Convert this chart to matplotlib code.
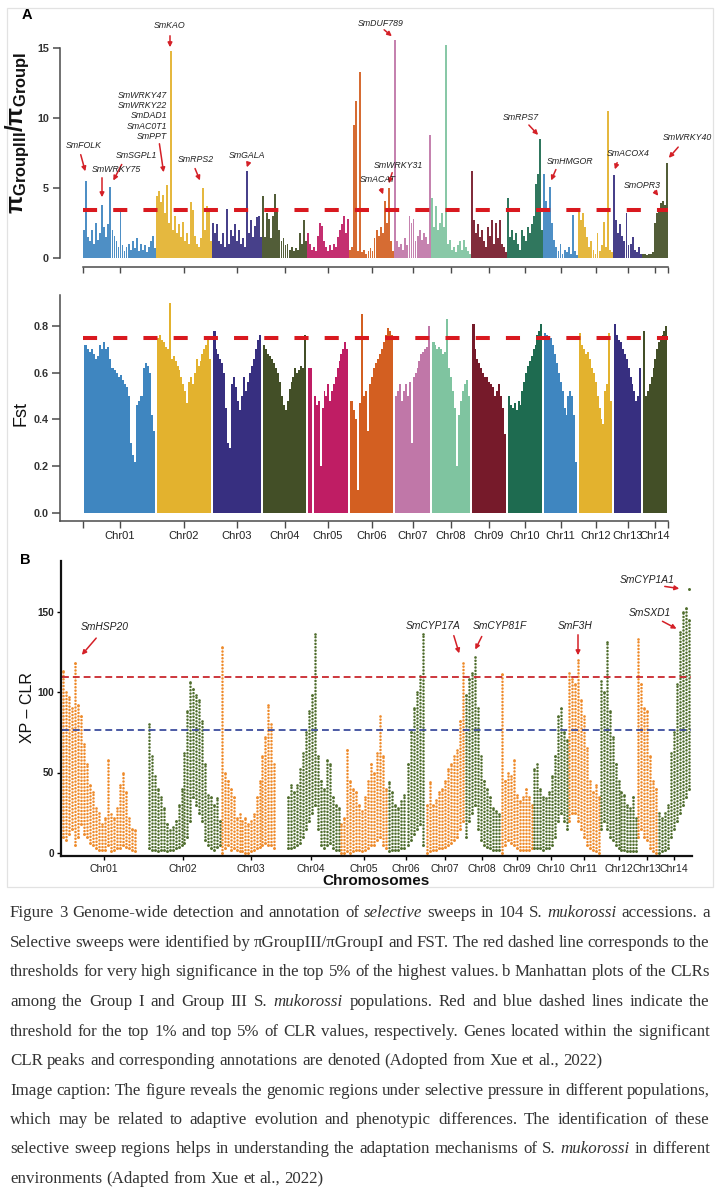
import numpy as np
import matplotlib
matplotlib.use('Agg')
import matplotlib.pyplot as plt
from matplotlib.patches import Rectangle
from matplotlib.transforms import ScaledTranslation

plt.rcParams['font.family'] = ['Liberation Sans', 'DejaVu Sans']
plt.rcParams['mathtext.fontset'] = 'custom'
plt.rcParams['mathtext.rm'] = 'Liberation Sans'
plt.rcParams['mathtext.bf'] = 'Liberation Sans:bold'
plt.rcParams['mathtext.it'] = 'Liberation Sans:italic'

# ---------------- data ----------------
chroms = ['Chr01', 'Chr02', 'Chr03', 'Chr04', 'Chr05', 'Chr06', 'Chr07',
          'Chr08', 'Chr09', 'Chr10', 'Chr11', 'Chr12', 'Chr13', 'Chr14']
# chromosome lengths (Mb-like units) used in panel A and panel B
a_chr_len = [73, 56, 50, 45, 42, 45, 37, 40, 36, 36, 35, 35, 29, 26]
b_chr_len = [83, 76, 60, 59, 47, 38, 39, 36, 33, 35, 32, 37, 20, 34]

pi_ratio = [
    [2.0, 5.5, 1.5, 1.2, 2.0, 1.0, 2.5, 1.3, 1.8, 3.8, 2.2, 1.5, 2.4, 5.1, 2.0, 1.6, 1.2, 0.8,
     3.6, 0.9, 0.5, 0.8, 1.0, 0.6, 1.2, 0.7, 1.4, 0.5, 1.0, 0.6, 0.9, 0.4, 0.8, 1.2, 1.6, 0.7],
    [4.4, 4.8, 4.0, 4.5, 3.2, 5.2, 2.5, 14.8, 2.0, 3.0, 1.8, 2.4, 1.5, 2.6, 1.2, 1.8, 1.0, 4.0,
     3.4, 1.6, 1.0, 0.8, 1.4, 5.0, 2.0, 3.7, 3.5, 1.2],
    [2.5, 1.8, 2.4, 1.2, 1.0, 1.8, 0.8, 3.5, 1.0, 2.0, 1.6, 2.4, 1.2, 2.0, 1.0, 1.4, 0.8, 6.2,
     1.8, 2.7, 1.5, 2.3, 2.9, 3.0, 1.5],
    [4.4, 1.5, 3.2, 2.8, 1.4, 3.0, 4.6, 3.4, 2.0, 1.2, 1.4, 0.9, 1.0, 0.6, 0.8, 0.5, 0.7, 0.6,
     1.8, 1.0, 2.7, 1.2],
    [1.8, 1.0, 0.6, 0.8, 0.5, 1.6, 2.5, 2.3, 1.2, 0.8, 0.5, 0.9, 0.6, 1.0, 0.8, 1.5, 2.0, 2.4,
     3.0, 1.8, 2.8],
    [0.6, 0.8, 9.5, 11.2, 0.5, 13.3, 0.4, 0.6, 0.3, 0.5, 0.7, 0.5, 1.4, 2.0, 1.6, 2.2, 1.8, 4.1,
     2.5, 5.0, 1.2, 0.5],
    [15.6, 1.2, 0.8, 1.0, 0.6, 1.4, 0.9, 3.0, 2.5, 2.8, 1.2, 1.6, 2.0, 1.3, 1.8, 1.5, 1.0, 8.8],
    [4.3, 2.2, 3.7, 2.0, 2.5, 3.2, 2.2, 15.2, 1.0, 1.3, 0.6, 0.8, 0.4, 0.9, 1.2, 0.6, 1.3, 0.8,
     0.5, 0.3],
    [6.2, 2.7, 1.8, 2.4, 1.5, 2.0, 1.2, 0.8, 2.2, 1.6, 2.7, 1.0, 2.5, 1.4, 2.7, 1.0, 0.8, 0.4],
    [4.3, 1.5, 2.0, 1.3, 1.8, 1.0, 0.6, 2.0, 1.6, 1.2, 2.2, 1.8, 2.4, 3.0, 5.3, 6.0, 8.5, 2.0],
    [6.0, 4.1, 3.5, 5.1, 2.5, 1.3, 0.8, 0.5, 1.0, 0.3, 0.6, 0.4, 0.8, 0.3, 3.1, 0.5, 0.2],
    [3.5, 2.7, 3.2, 2.2, 1.5, 0.8, 1.2, 0.6, 0.3, 1.8, 0.5, 0.9, 2.6, 0.8, 10.5, 0.6, 0.4],
    [5.9, 2.7, 1.8, 2.4, 1.6, 1.2, 3.2, 0.9, 1.0, 1.5, 0.6, 0.4, 0.8, 0.3],
    [0.3, 0.3, 0.2, 0.3, 0.3, 0.4, 2.5, 3.2, 3.6, 3.9, 4.1, 3.8, 6.8],
]

fst = [
    [0.72, 0.70, 0.69, 0.70, 0.68, 0.66, 0.67, 0.72, 0.70, 0.73, 0.70, 0.71, 0.66, 0.62, 0.61,
     0.60, 0.58, 0.59, 0.57, 0.55, 0.54, 0.50, 0.30, 0.25, 0.22, 0.46, 0.48, 0.50, 0.62, 0.64,
     0.63, 0.60, 0.42, 0.35],
    [0.75, 0.76, 0.74, 0.73, 0.71, 0.70, 0.90, 0.66, 0.67, 0.65, 0.63, 0.61, 0.58, 0.55, 0.52,
     0.47, 0.56, 0.58, 0.55, 0.60, 0.66, 0.63, 0.65, 0.68, 0.70, 0.72, 0.75, 0.66],
    [0.78, 0.70, 0.68, 0.66, 0.64, 0.60, 0.45, 0.30, 0.28, 0.55, 0.58, 0.54, 0.48, 0.44, 0.50,
     0.58, 0.52, 0.56, 0.60, 0.63, 0.66, 0.70, 0.74, 0.76],
    [0.72, 0.70, 0.68, 0.67, 0.66, 0.64, 0.62, 0.60, 0.56, 0.50, 0.46, 0.44, 0.48, 0.53, 0.56,
     0.58, 0.62, 0.60, 0.61, 0.63, 0.62, 0.76],
    [0.62, 0.62, np.nan, 0.50, 0.46, 0.48, 0.20, 0.45, 0.52, 0.50, 0.55, 0.48, 0.52, 0.55, 0.58,
     0.62, 0.65, 0.68, 0.70, 0.73, 0.70],
    [0.48, 0.44, 0.40, 0.10, 0.47, 0.85, 0.50, 0.52, 0.35, 0.55, 0.58, 0.62, 0.64, 0.66, 0.68,
     0.70, 0.73, 0.76, 0.79, 0.78, 0.76],
    [0.50, 0.52, 0.55, 0.48, 0.52, 0.55, 0.50, 0.56, 0.30, 0.58, 0.60, 0.62, 0.65, 0.68, 0.69,
     0.70, 0.71, 0.80],
    [0.73, 0.72, 0.70, 0.71, 0.70, 0.68, 0.69, 0.83, 0.62, 0.58, 0.52, 0.45, 0.20, 0.42, 0.48,
     0.52, 0.55, 0.57, 0.50],
    [0.81, 0.70, 0.66, 0.64, 0.62, 0.60, 0.58, 0.58, 0.56, 0.55, 0.54, 0.50, 0.52, 0.55, 0.50,
     0.45, 0.34],
    [0.50, 0.46, 0.45, 0.47, 0.44, 0.48, 0.46, 0.52, 0.56, 0.60, 0.63, 0.65, 0.67, 0.70, 0.72,
     0.76, 0.78, 0.81],
    [0.77, 0.76, 0.74, 0.75, 0.72, 0.68, 0.64, 0.60, 0.56, 0.52, 0.45, 0.42, 0.50, 0.52, 0.50,
     0.42, 0.22],
    [0.77, 0.72, 0.70, 0.68, 0.69, 0.66, 0.62, 0.60, 0.56, 0.50, 0.45, 0.40, 0.38, 0.52, 0.55,
     0.77, 0.48],
    [0.81, 0.76, 0.74, 0.73, 0.70, 0.68, 0.66, 0.62, 0.58, 0.55, 0.52, 0.48, 0.50, 0.62],
    [0.78, 0.50, 0.52, 0.55, 0.58, 0.62, 0.66, 0.70, 0.73, 0.75, 0.76, 0.78, 0.80],
]

nan = np.nan
xpclr_hi = [
    [113, 100, 97, 90, 118, 92, 85, 68, 55, 42, 38, 28, 25, 18, 22, 58, 24, 22, 28, 42, 50, 38,
     22, 15, 14, nan, nan, nan],
    [nan, 80, 60, 48, 40, 35, 28, 18, 14, 16, 20, 30, 40, 62, 88, 106, 102, 98, 95, 82, 55, 36,
     35, 30, 34, 20],
    [128, 50, 45, 40, 35, 22, 24, 20, 22, 18, 20, 24, 35, 45, 60, 72, 92, 80, 55, nan, nan],
    [nan, nan, 35, 42, 38, 42, 52, 62, 75, 88, 98, 136, 60, 45, 40, 58, 55, 35, 30, 28],
    [18, 22, 64, 45, 40, 38, 30, 26, 35, 45, 55, 50, 62, 85, 60, 40],
    [44, 38, 30, 28, 32, 36, 55, 75, 90, 100, 110, 136],
    [30, 44, 30, 33, 38, 40, 45, 52, 55, 60, 64, 82, 118],
    [98, 108, 112, 122, 90, 60, 45, 40, 35, 28, 26, 24],
    [111, 45, 50, 48, 58, 36, 32, 35, 40, 35, 30],
    [52, 55, 40, 35, 34, 38, 48, 60, 85, 90, 75, 70],
    [112, 108, 105, 120, 95, 85, 65, 45, 38, 42, 35],
    [107, 100, 131, 88, 72, 55, 45, 38, 36, 30, 28, 35, 22],
    [133, 105, 90, 88, 60, 45, 40],
    [25, 22, 25, 30, 62, 75, 105, 137, 150, 152, 145],
]
xpclr_lo = [
    [10, 8, 12, 15, 5, 10, 18, 12, 10, 6, 5, 3, 2, 2, 2, 5, 1, 2, 3, 3, 5, 4, 3, 2, 1,
     nan, nan, nan],
    [nan, 3, 2, 2, 1, 2, 2, 1, 2, 2, 3, 4, 5, 6, 10, 20, 35, 30, 25, 20, 8, 5, 3, 2, 4, 5],
    [0, 3, 5, 2, 3, 2, 1, 1, 0, 0, 1, 2, 3, 4, 5, 6, 5, 5, 3, nan, nan],
    [nan, nan, 3, 3, 4, 5, 6, 10, 15, 20, 25, 30, 15, 5, 3, 5, 6, 3, 2, 2],
    [0, 0, 1, 0, 1, 2, 2, 1, 2, 3, 5, 5, 8, 10, 5, 3],
    [1, 2, 2, 2, 3, 3, 5, 8, 12, 15, 18, 5],
    [0, 1, 2, 2, 3, 3, 4, 5, 6, 8, 10, 15, 20],
    [10, 20, 25, 30, 15, 8, 5, 4, 3, 2, 2, 2],
    [0, 5, 8, 6, 5, 3, 2, 2, 2, 2, 3],
    [3, 3, 3, 2, 3, 3, 5, 10, 20, 25, 20, 15],
    [20, 25, 25, 20, 15, 10, 5, 3, 2, 1, 0],
    [15, 20, 15, 10, 8, 5, 3, 2, 2, 1, 1, 1, 1],
    [10, 15, 10, 8, 3, 1, 0],
    [0, 1, 2, 3, 10, 15, 20, 25, 30, 35, 40],
]
xpclr_cyp1a1 = 164.0          # isolated top point on Chr14

pi_threshold = 3.45
fst_threshold = 0.75
xpclr_top1 = 109.3
xpclr_top5 = 76.4

# ---------------- styles ----------------
a_colors = ['#3f86c0', '#e3b22e', '#372f80', '#434f27', '#bf1d64', '#d35f21', '#c077a8',
            '#7fc4a0', '#761a2a', '#1e6b50', '#3f86c0', '#e3b22e', '#372f80', '#434f27']
b_colors = ['#ee8a2a', '#4f6d2c']
red = '#d9191f'
W, H = 721, 1200

fig = plt.figure(figsize=(W / 100, H / 100), dpi=100)
fig.patch.set_facecolor('white')


def add_ax(l, t, r, b):
    return fig.add_axes([l / W, 1 - b / H, (r - l) / W, (b - t) / H])


def nudge_labels(ax, shifts_px):
    for lab, dx in zip(ax.get_xticklabels(), shifts_px):
        if dx:
            lab.set_transform(lab.get_transform() +
                              ScaledTranslation(dx / 100.0, 0, fig.dpi_scale_trans))


a_start = np.concatenate([[0], np.cumsum(a_chr_len)[:-1]])
a_total = float(np.sum(a_chr_len))
a_centers = a_start + np.array(a_chr_len) / 2.0
b_start = np.concatenate([[0], np.cumsum(b_chr_len)[:-1]])
b_total = float(np.sum(b_chr_len))
b_centers = b_start + np.array(b_chr_len) / 2.0

axis_gray = '#4a4a4a'

# ---------------- panel A top: pi ratio ----------------
ax1 = add_ax(60, 25, 668, 267)
for i in range(14):
    vals = np.array(pi_ratio[i], float)
    n = len(vals)
    slot = a_chr_len[i] / n
    xs = a_start[i] + slot * (np.arange(n) + 0.5)
    ax1.bar(xs, vals, width=slot * 0.88, color=a_colors[i], linewidth=0, alpha=0.92)
ax1.hlines(pi_threshold, 0, a_total, colors=red, linewidth=2.9,
           linestyles=[(0, (3.5, 4.0))], zorder=5)
ax1.set_xlim(-23, 585)
ax1.set_ylim(-9 / 14, 233 / 14)
for s in ['top', 'right']:
    ax1.spines[s].set_visible(False)
ax1.spines['left'].set_bounds(0, 15)
ax1.spines['bottom'].set_bounds(0, a_total)
for s in ['left', 'bottom']:
    ax1.spines[s].set_color(axis_gray)
    ax1.spines[s].set_linewidth(1.1)
ax1.set_yticks([0, 5, 10, 15])
ax1.set_yticklabels(['0', '5', '10', '15'], fontsize=7.8, fontweight='bold', color='#333')
ax1.set_xticks(list([0]) + list(a_centers) + [a_total])
ax1.set_xticklabels([])
ax1.tick_params(axis='y', length=5, width=1.1, color=axis_gray, pad=3)
ax1.tick_params(axis='x', length=4, width=1.0, color=axis_gray)
ax1.set_facecolor('none')

# ---------------- panel A bottom: Fst ----------------
ax2 = add_ax(60, 293, 668, 521)
for i in range(14):
    vals = np.array(fst[i], float)
    n = len(vals)
    lo_e = a_start[i] + 1.5
    hi_e = a_start[i] + a_chr_len[i] - 1.0
    slot = (hi_e - lo_e) / n
    xs = lo_e + slot * (np.arange(n) + 0.5)
    ax2.bar(xs, np.nan_to_num(vals), width=slot * 1.03, color=a_colors[i], linewidth=0)
ax2.hlines(fst_threshold, 0, a_total, colors=red, linewidth=2.9,
           linestyles=[(0, (3.5, 4.0))], zorder=5)
ax2.set_xlim(-23, 585)
ax2.set_ylim(-8 / 233.75, 220 / 233.75)
for s in ['top', 'right']:
    ax2.spines[s].set_visible(False)
ax2.spines['left'].set_bounds(-8 / 233.75, 0.933)
for s in ['left', 'bottom']:
    ax2.spines[s].set_color(axis_gray)
    ax2.spines[s].set_linewidth(1.1)
ax2.set_yticks([0, 0.2, 0.4, 0.6, 0.8])
ax2.set_yticklabels(['0.0', '0.2', '0.4', '0.6', '0.8'], fontsize=7.8, fontweight='bold',
                    color='#333')
ax2.set_xticks(list([0]) + list(a_centers) + [a_total])
ax2.set_xticklabels([''] + chroms + [''], fontsize=8.0, color='#222')
nudge_labels(ax2, [0] * 14 + [5, 0])
ax2.tick_params(axis='y', length=6, width=1.1, color=axis_gray, pad=2)
ax2.tick_params(axis='x', length=5, width=1.0, color=axis_gray, pad=2)
ax2.set_facecolor('none')

# ---------------- panel B: XP-CLR ----------------
ax3 = add_ax(61, 561, 692, 856)
for i in range(14):
    hi = np.array(xpclr_hi[i], float)
    lo = np.array(xpclr_lo[i], float)
    n = len(hi)
    slot = b_chr_len[i] / n
    xs = b_start[i] + slot * (np.arange(n) + 0.5)
    m = ~np.isnan(hi)
    c = b_colors[i % 2]
    ax3.vlines(xs[m], lo[m], hi[m], colors=c, linewidth=1.85,
               linestyles=[(0, (0.01, 1.3))], capstyle='round')
    ax3.scatter(xs[m], hi[m], s=3.6, color=c, linewidths=0)
    ax3.scatter(xs[m], lo[m], s=3.6, color=c, linewidths=0)
    if i == 13:
        ax3.scatter([xs[-1]], [xpclr_cyp1a1], s=4.5, color=c, linewidths=0)
ax3.hlines(xpclr_top1, 0, b_total, colors='#c9282d', linewidth=1.3,
           linestyles=[(0, (3.8, 2.2))])
ax3.hlines(xpclr_top5, 0, b_total, colors='#3d4d9e', linewidth=1.3,
           linestyles=[(0, (3.8, 2.2))])
ax3.set_xlim(-1, 630)
ax3.set_ylim(-3 / 1.61, 292 / 1.61)
for s in ['top', 'right']:
    ax3.spines[s].set_visible(False)
for s in ['left', 'bottom']:
    ax3.spines[s].set_color('#111')
    ax3.spines[s].set_linewidth(1.6)
ax3.set_yticks([0, 50, 100, 150])
ax3.set_yticklabels(['0', '50', '100', '150'], fontsize=7.2, fontweight='bold', color='#222')
ax3.set_xticks(b_centers)
ax3.set_xticklabels(chroms, fontsize=7.6, color='#222')
nudge_labels(ax3, [0] * 11 + [2, 3, 4])
ax3.tick_params(axis='y', length=3, width=1.0, pad=2)
ax3.tick_params(axis='x', length=3, width=1.0, pad=3)
ax3.set_facecolor('none')

# ---------------- labels ----------------
fig.text(27 / W, 1 - 15 / H, 'A', ha='center', va='center', fontsize=10.5, fontweight='bold')
fig.text(25 / W, 1 - 560 / H, 'B', ha='center', va='center', fontsize=10.5, fontweight='bold')
fig.text(18 / W, 1 - 133 / H, r'$\mathbf{π}_{\mathbf{GroupIII}}\mathbf{/π}_{\mathbf{GroupI}}$',
         rotation=90, ha='center', va='center', fontsize=17, color='#111')
fig.text(21 / W, 1 - 414 / H, 'Fst', rotation=90, ha='center', va='center', fontsize=13,
         color='#111')
fig.text(28 / W, 1 - 708 / H, 'XP – CLR', rotation=90, ha='center', va='center',
         fontsize=11.5, color='#111')
fig.text(376 / W, 1 - 881 / H, 'Chromosomes', ha='center', va='center', fontsize=11,
         fontweight='bold', color='#111')


def arrow_note(text, tx, ty, ax_from, ay_from, ax_to, ay_to, size, ha='center', ls=1.0):
    fig.text(tx / W, 1 - ty / H, text, ha=ha, va='center', fontsize=size, style='italic',
             color='#222', linespacing=ls)
    if ax_from is not None:
        fig.add_artist(matplotlib.patches.FancyArrowPatch(
            (ax_from / W, 1 - ay_from / H), (ax_to / W, 1 - ay_to / H),
            transform=fig.transFigure, arrowstyle='-|>', mutation_scale=6.5,
            color='#d42027', linewidth=1.1))


sa = 6.3
arrow_note('SmKAO', 170, 25, 170, 33, 170, 50, sa)
arrow_note('SmFOLK', 84, 146, 80, 152, 86, 174, sa)
arrow_note('SmWRKY75', 116, 169, 102, 175, 102, 200, sa)
arrow_note('SmSGPL1', 136, 155, 123, 162, 112, 183, sa)
arrow_note('SmWRKY47\nSmWRKY22\nSmDAD1\nSmAC0T1\nSmPPT', 167, 116, 159, 141, 164, 175, sa,
           ha='right', ls=1.15)
arrow_note('SmRPS2', 196, 160, 194, 166, 201, 183, sa)
arrow_note('SmGALA', 247, 155, 249, 161, 246, 170, sa)
arrow_note('SmDUF789', 381, 23, 382, 28, 394, 38, sa)
arrow_note('SmWRKY31', 398, 166, 393, 170, 388, 186, sa)
arrow_note('SmACAT', 378, 180, 380, 186, 384, 197, sa)
arrow_note('SmRPS7', 521, 117, 527, 123, 540, 137, sa)
arrow_note('SmHMGOR', 570, 161, 557, 167, 550, 183, sa)
arrow_note('SmACOX4', 628, 153, 618, 160, 614, 172, sa)
arrow_note('SmOPR3', 642, 185, 653, 189, 660, 198, sa)
arrow_note('SmWRKY40', 687, 138, 680, 145, 667, 160, sa)

sb = 7.4
arrow_note('SmHSP20', 105, 627, 98, 636, 80, 657, sb)
arrow_note('SmCYP17A', 433, 626, 453, 633, 460, 656, sb)
arrow_note('SmCYP81F', 500, 626, 483, 634, 474, 652, sb)
arrow_note('SmF3H', 575, 626, 578, 632, 578, 658, sb)
arrow_note('SmCYP1A1', 647, 580, 662, 586, 682, 589, sb)
arrow_note('SmSXD1', 650, 613, 660, 620, 679, 630, sb)

# light frame around the figure area
fig.add_artist(Rectangle((7 / W, 1 - 887 / H), 706 / W, 879 / H, transform=fig.transFigure,
                         fill=False, edgecolor='#e2e2e2', linewidth=0.9))

# ---------------- caption (justified) ----------------
caption_lines = [
    ("Figure 3 Genome-wide detection and annotation of ~selective sweeps in 104 S. ~mukorossi accessions. a", True),
    ("Selective sweeps were identified by πGroupIII/πGroupI and FST. The red dashed line corresponds to the", True),
    ("thresholds for very high significance in the top 5% of the highest values. b Manhattan plots of the CLRs", True),
    ("among the Group I and Group III S. ~mukorossi populations. Red and blue dashed lines indicate the", True),
    ("threshold for the top 1% and top 5% of CLR values, respectively. Genes located within the significant", True),
    ("CLR peaks and corresponding annotations are denoted (Adopted from Xue et al., 2022)", False),
    ("Image caption: The figure reveals the genomic regions under selective pressure in different populations,", True),
    ("which may be related to adaptive evolution and phenotypic differences. The identification of these", True),
    ("selective sweep regions helps in understanding the adaptation mechanisms of S. ~mukorossi in different", True),
    ("environments (Adapted from Xue et al., 2022)", False),
]
line_y = [913, 943, 972, 1002, 1032, 1061, 1091, 1120, 1149, 1179]
x_left, x_right = 10, 710
renderer = fig.canvas.get_renderer()
cap_family = 'Liberation Serif'
cap_color = '#333333'


def word_width(word, size, italic):
    t = fig.text(0, 0, word, fontsize=size, family=cap_family,
                 style='italic' if italic else 'normal')
    w = t.get_window_extent(renderer).width
    t.remove()
    return w


def line_widths(line, size):
    words = line.split(' ')
    ws = []
    for w in words:
        it = w.startswith('~')
        ws.append((w.lstrip('~'), it, word_width(w.lstrip('~'), size, it)))
    return ws


base_size = 11.5
space_w = word_width('a a', base_size, False) - word_width('aa', base_size, False)
need = 0
for line, just in caption_lines:
    ws = line_widths(line, base_size)
    need = max(need, sum(w[2] for w in ws) + 0.95 * space_w * (len(ws) - 1))
cap_size = base_size * (x_right - x_left) / need
space_w = word_width('a a', cap_size, False) - word_width('aa', cap_size, False)

for (line, just), yc in zip(caption_lines, line_y):
    ws = line_widths(line, cap_size)
    total = sum(w[2] for w in ws)
    if just and len(ws) > 1:
        gap = (x_right - x_left - total) / (len(ws) - 1)
    else:
        gap = space_w
    x = x_left
    for word, it, wdt in ws:
        fig.text(x / W, 1 - (yc + 4) / H, word, fontsize=cap_size, family=cap_family,
                 style='italic' if it else 'normal', color=cap_color, ha='left',
                 va='baseline')
        x += wdt + gap

fig.savefig('out.png', dpi=100, facecolor='white')
